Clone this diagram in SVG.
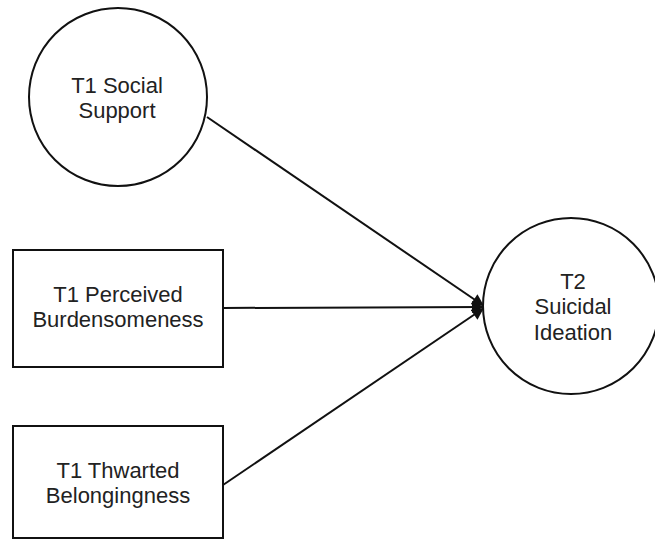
<svg xmlns="http://www.w3.org/2000/svg" width="655" height="540" viewBox="0 0 655 540">
<style>
.n{fill:#fff;stroke:#111;stroke-width:2}
.t{font-family:"Liberation Sans",Arial,sans-serif;font-size:22px;fill:#222;text-anchor:middle}
.c{stroke:#111;stroke-width:2;fill:none;marker-end:url(#ah)}
</style>
<defs>
<marker id="ah" viewBox="0 0 10 10" refX="10" refY="5" markerWidth="6.5" markerHeight="6" markerUnits="strokeWidth" orient="auto">
<path d="M0,0 L10,5 L0,10 z" fill="#111"/>
</marker>
</defs>
<rect width="655" height="540" fill="#fff"/>
<g id="connectors">
<line class="c" x1="207" y1="117" x2="484" y2="306"/>
<line class="c" x1="223" y1="308" x2="484" y2="307"/>
<line class="c" x1="223" y1="485" x2="484" y2="308"/>
</g>
<g id="social">
<circle class="n" cx="118" cy="97" r="89"/>
<text class="t" x="117" y="93">T1 Social</text>
<text class="t" x="117" y="118">Support</text>
</g>
<g id="burden">
<rect class="n" x="13" y="250" width="210" height="117"/>
<text class="t" x="118" y="302">T1 Perceived</text>
<text class="t" x="118" y="327">Burdensomeness</text>
</g>
<g id="belong">
<rect class="n" x="13" y="426" width="210" height="112"/>
<text class="t" x="118" y="478">T1 Thwarted</text>
<text class="t" x="118" y="503">Belongingness</text>
</g>
<g id="ideation">
<circle class="n" cx="571" cy="306" r="88"/>
<text class="t" x="573" y="289">T2</text>
<text class="t" x="573" y="314">Suicidal</text>
<text class="t" x="573" y="340">Ideation</text>
</g>
</svg>
